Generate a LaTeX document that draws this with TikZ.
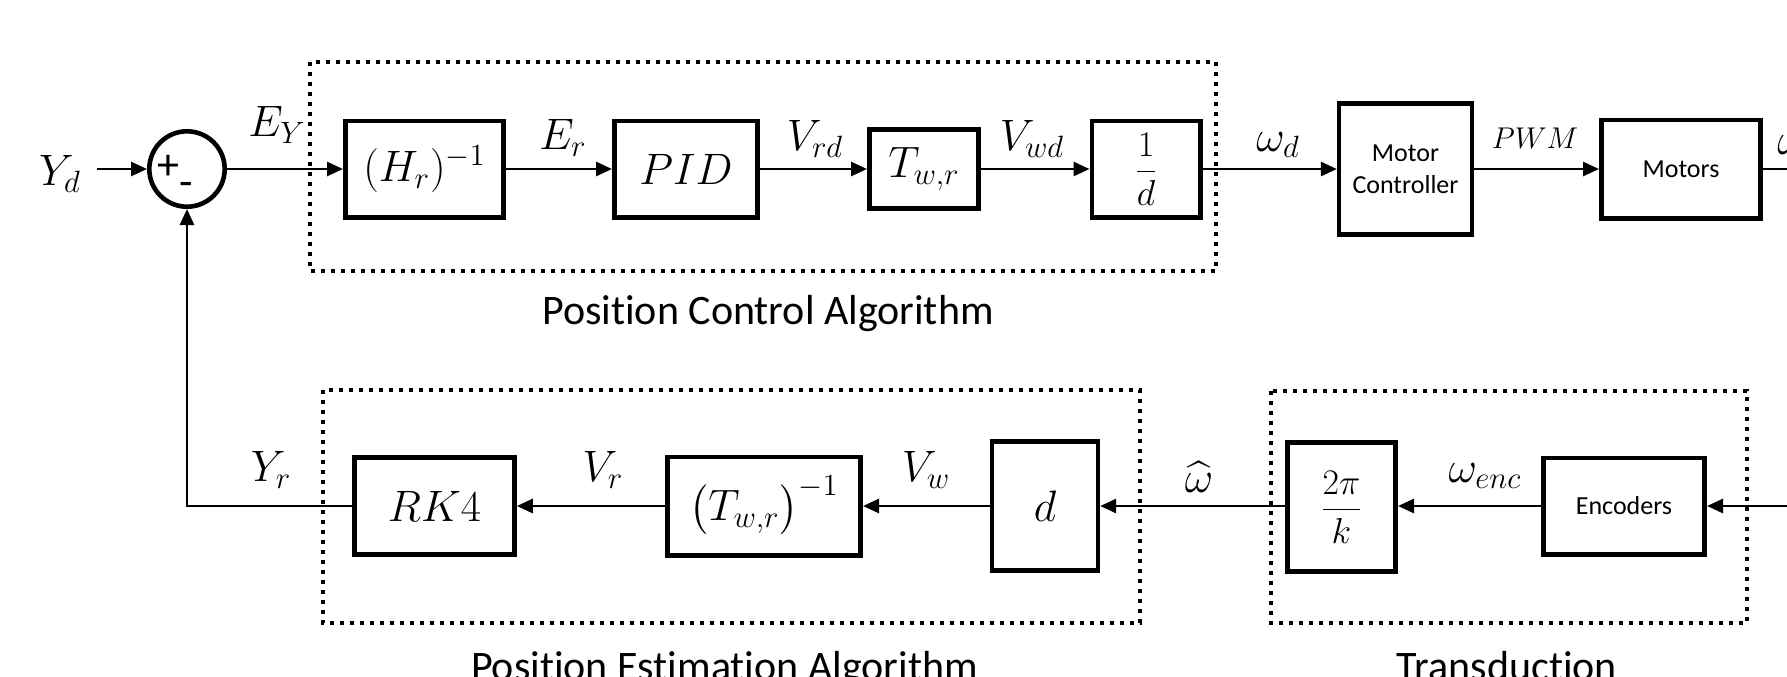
\RequirePackage{fix-cm}
\documentclass[tikz,border=0pt]{standalone}
\usepackage{amsmath}
\usepackage[no-math]{fontspec}
\newfontfamily\calibri[Ligatures=NoCommon]{Carlito}
\usetikzlibrary{arrows.meta}
\newcommand\mathsz{\fontsize{22}{26}\selectfont}
\newcommand\fracsz{\fontsize{18}{22}\selectfont}
\tikzset{
  blk/.style={draw, line width=2.3pt, inner sep=0pt, font=\mathsz},
  lbl/.style={inner sep=0pt, font=\mathsz},
  conn/.style={line width=1.4pt, -{Triangle[length=8pt,width=7pt]}},
  plainline/.style={line width=1.4pt},
  grp/.style={line width=2pt, dash pattern=on 2pt off 3pt},
  grptitle/.style={inner sep=0pt, anchor=base, font=\calibri\fontsize{21}{25}\selectfont},
  sanstext/.style={font=\calibri\fontsize{13}{16}\selectfont, align=center},
}
\begin{document}
\begin{tikzpicture}[x=0.5pt,y=-0.5pt]
\useasboundingbox (0,0) rectangle (1787,676);
\clip (0,0) rectangle (1787,676);

% group boxes
\draw[grp] (310,62) rectangle (1216,271);
\draw[grp] (323,390) rectangle (1140,623);
\draw[grp] (1271,391) rectangle (1747,623);

% top row
\node[lbl, inner xsep=8pt] (Yd) at (60,174) {$Y_d$};
\node[draw, circle, line width=2.3pt, minimum size=37.7pt, inner sep=0pt] (sum) at (187,169) {};
\node[inner sep=0pt, font=\calibri\fontsize{22}{26}\selectfont] (plus) at (168,167) {+};
\node[inner sep=0pt, font=\calibri\fontsize{22}{26}\selectfont] (minus) at (186,189) {-};
\node[blk, minimum width=79.2pt, minimum height=48.2pt] (Hr) at (424.5,169) {$(H_r)^{-1}$};
\node[blk, minimum width=71.7pt, minimum height=48.2pt] (PID) at (686,169) {$PID$};
\node[blk, minimum width=54.7pt, minimum height=39.7pt] (Twr) at (924,169) {$T_{w,r}$};
\node[blk, minimum width=54.2pt, minimum height=48.2pt, font=\fracsz] (oned) at (1146,169) {$\dfrac{1}{d}$};
\node[blk, sanstext, minimum width=66.4pt, minimum height=65.7pt] (MC) at (1405.5,169) {Motor\\Controller};
\node[blk, sanstext, minimum width=79.7pt, minimum height=49.2pt] (Mot) at (1681,169) {Motors};
\coordinate (outR) at (1787,169);

\node[lbl] (EY) at (277,125) {$E_Y$};
\node[lbl] (Er) at (563,138) {$E_r$};
\node[lbl] (Vrd) at (815,139) {$V_{rd}$};
\node[lbl] (Vwd) at (1032,139) {$V_{wd}$};
\node[lbl] (wd) at (1278,145) {$\omega_d$};
\node[lbl, font=\fontsize{15}{18}\selectfont] (PWM) at (1535,138) {$PWM$};
\node[lbl, anchor=west] (wout) at (1777,145) {$\omega$};

\draw[conn] (Yd.east |- sum.west) -- (sum.west);
\draw[conn] (sum) -- (Hr);
\draw[conn] (Hr) -- (PID);
\draw[conn] (PID) -- (Twr);
\draw[conn] (Twr) -- (oned);
\draw[conn] (oned) -- (MC);
\draw[conn] (MC) -- (Mot);
\draw[plainline] (Mot) -- (outR);

% bottom row
\node[blk, minimum width=80pt, minimum height=48.5pt] (RK) at (434.5,506) {$RK4$};
\node[blk, minimum width=96.7pt, minimum height=49.2pt] (Twri) at (764,506) {$\bigl(T_{w,r}\bigr)^{-1}$};
\node[blk, minimum width=52.9pt, minimum height=64.5pt] (dd) at (1045,506) {$d$};
\node[blk, minimum width=54.2pt, minimum height=64.7pt, font=\fracsz] (tpk) at (1341.5,507) {$\dfrac{2\pi}{k}$};
\node[blk, sanstext, minimum width=80.7pt, minimum height=48.2pt] (Enc) at (1624,506) {Encoders};
\coordinate (inR) at (1787,506);

\node[lbl] (Yr) at (271,470) {$Y_r$};
\node[lbl] (Vr) at (603,470) {$V_r$};
\node[lbl] (Vw) at (926,470) {$V_w$};
\node[lbl] (what) at (1199,477) {$\widehat{\omega}$};
\node[lbl] (wenc) at (1485,476) {$\omega_{enc}$};

\draw[conn] (inR) -- (Enc);
\draw[conn] (Enc.west) -- (tpk.east |- Enc.west);
\draw[conn] (tpk.west |- Enc.west) -- (dd.east |- Enc.west);
\draw[conn] (dd) -- (Twri);
\draw[conn] (Twri) -- (RK);
\draw[conn] (RK.west) -| (sum.south);

% titles
\node[grptitle] (t1) at (768,324) {Position Control Algorithm};
\node[grptitle] (t2) at (724.5,680) {Position Estimation Algorithm};
\node[grptitle] (t3) at (1507,680) {Transduction};
\end{tikzpicture}
\end{document}
